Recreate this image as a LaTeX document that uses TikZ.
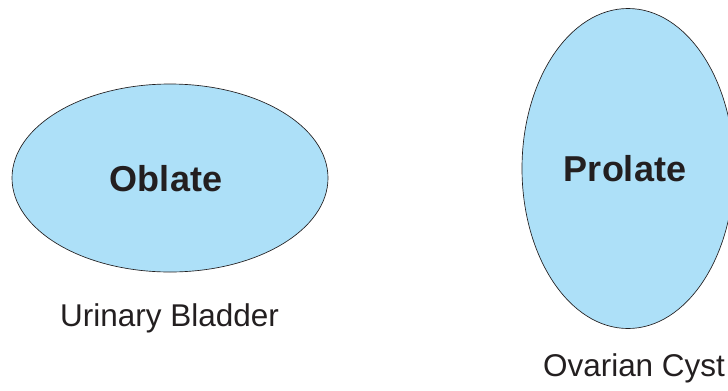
\documentclass[tikz,border=0pt]{standalone}
\usepackage{fontspec}
\setmainfont{Liberation Sans}
\usetikzlibrary{shapes.geometric}
\definecolor{shapefill}{RGB}{173,224,248}
\definecolor{edgecol}{RGB}{35,31,32}
\tikzset{
  blob/.style={ellipse, draw=edgecol, fill=shapefill, line width=0.5pt, inner sep=0pt},
  title/.style={inner sep=0pt, font=\fontsize{27}{30}\selectfont\bfseries, text=edgecol},
  caption/.style={inner sep=0pt, font=\fontsize{23.6}{26}\selectfont, text=edgecol}
}
\begin{document}
\begin{tikzpicture}[x=0.75pt,y=-0.75pt]
\useasboundingbox (0,0) rectangle (728,390);
\clip (0,0) rectangle (728,390);
\node[blob, minimum width=316*0.75pt, minimum height=188*0.75pt] (oblate) at (170,178) {};
\node[title] (oblatetext) at (166,179) {Oblate};
\node[blob, minimum width=212*0.75pt, minimum height=320*0.75pt] (prolate) at (628,168.5) {};
\node[title] (prolatetext) at (625,169) {Prolate};
\node[caption] (bladder) at (169.5,318) {Urinary Bladder};
\node[caption] (cyst) at (634,368) {Ovarian Cyst};
\end{tikzpicture}
\end{document}
